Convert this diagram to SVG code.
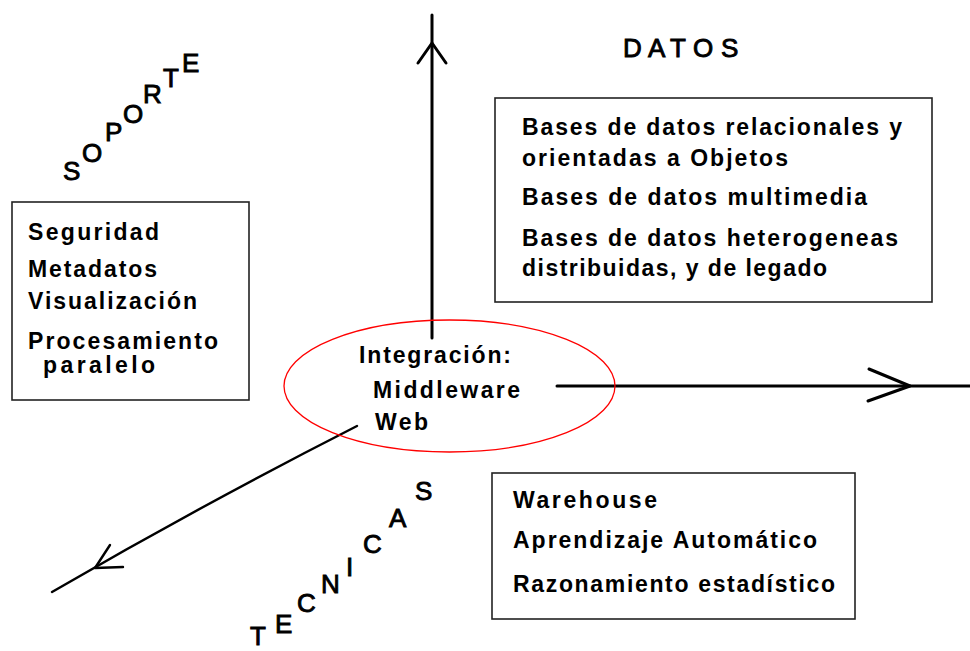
<svg xmlns="http://www.w3.org/2000/svg" width="970" height="651" viewBox="0 0 970 651">
  <style>
    .axis { font-family: "Liberation Sans", Arial, sans-serif; font-size: 26px; fill: #000; stroke: #000; stroke-width: 0.9; }
    .item { font-family: "Liberation Sans", Arial, sans-serif; font-size: 23px; font-weight: bold; fill: #000; }
    .box { fill: #fff; stroke: #222; stroke-width: 1.6; }
    .line { fill: none; stroke: #000; stroke-width: 3; stroke-linecap: round; stroke-linejoin: round; }
    .thin { fill: none; stroke: #000; stroke-width: 2.4; stroke-linecap: round; stroke-linejoin: round; }
  </style>
  <rect x="0" y="0" width="970" height="651" fill="#fff"/>

  <g id="connectors">
    <path class="line" d="M432,338 L432,15"/>
    <polyline class="line" points="418,63 432,43 446,63"/>
    <path class="line" d="M557,386 L970,386"/>
    <polyline class="line" points="869,369 910,386 868,401"/>
    <path class="thin" d="M357,426 Q200,506 52,592"/>
    <polyline class="thin" points="110,545 95,568 123,567"/>
  </g>

  <g id="soporte-label">
    <text class="axis" x="63 82 105 123 143 163 182" y="180 162 141 123 103 87 72">SOPORTE</text>
  </g>

  <g id="datos-label">
    <text class="axis" x="623 648 670 693 721" y="57 57 57 57 57">DATOS</text>
  </g>

  <g id="tecnicas-label">
    <text class="axis" x="250 275 297 321 346 363 389 415" y="645 633 612 593 576 553 527 500">TECNICAS</text>
  </g>

  <g id="soporte-box">
    <rect class="box" x="12" y="202" width="237" height="198"/>
    <text class="item" x="28" y="240" textLength="131">Seguridad</text>
    <text class="item" x="28" y="277" textLength="129">Metadatos</text>
    <text class="item" x="28" y="309" textLength="169">Visualización</text>
    <text class="item" x="28" y="349" textLength="190">Procesamiento</text>
    <text class="item" x="43" y="373" textLength="112">paralelo</text>
  </g>

  <g id="datos-box">
    <rect class="box" x="495" y="98" width="437" height="204"/>
    <text class="item" x="522" y="135" textLength="380">Bases de datos relacionales y</text>
    <text class="item" x="522" y="166" textLength="266">orientadas a Objetos</text>
    <text class="item" x="522" y="205" textLength="345">Bases de datos multimedia</text>
    <text class="item" x="522" y="246" textLength="376">Bases de datos heterogeneas</text>
    <text class="item" x="522" y="276" textLength="305">distribuidas, y de legado</text>
  </g>

  <g id="tecnicas-box">
    <rect class="box" x="492" y="473" width="363" height="146"/>
    <text class="item" x="513" y="508" textLength="144">Warehouse</text>
    <text class="item" x="513" y="548" textLength="304">Aprendizaje Automático</text>
    <text class="item" x="513" y="592" textLength="322">Razonamiento estadístico</text>
  </g>

  <g id="integracion">
    <ellipse cx="449.5" cy="386" rx="165.5" ry="66" fill="none" stroke="#ff0000" stroke-width="1.3"/>
    <text class="item" x="359" y="363" textLength="152">Integración:</text>
    <text class="item" x="373" y="398" textLength="147">Middleware</text>
    <text class="item" x="375" y="430" textLength="53">Web</text>
  </g>
</svg>
